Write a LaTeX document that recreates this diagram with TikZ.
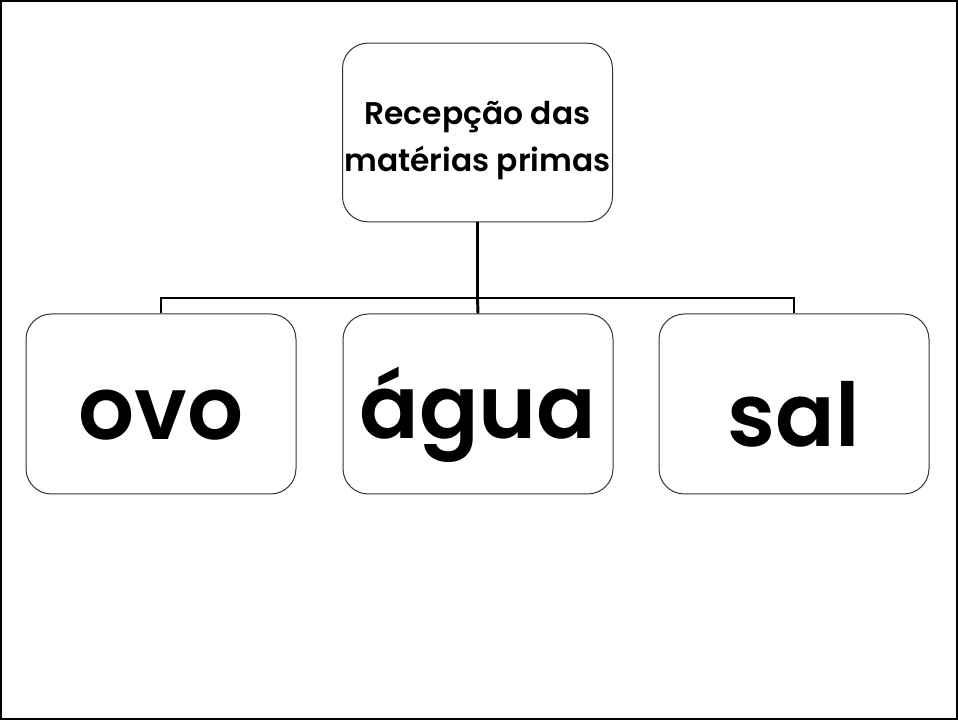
\documentclass[tikz,border=0pt]{standalone}
\usepackage{fontspec}
\setmainfont{Poppins}[BoldFont={* SemiBold}]
\tikzset{
  box/.style={draw=black!80, line width=0.75pt, rounded corners=19pt, fill=white,
    minimum width=202.5pt, minimum height=135pt, inner sep=0pt, align=center},
  big/.style={font=\fontsize{66}{70}\selectfont\bfseries, inner sep=0pt},
  small/.style={font=\fontsize{23.5}{35}\selectfont\bfseries, inner sep=0pt, align=center},
  conn/.style={line width=2.2pt},
}
\begin{document}
\begin{tikzpicture}[x=0.75pt,y=-0.75pt]
\useasboundingbox (0,0) rectangle (958,720);
\draw[line width=1.5pt] (1,1) rectangle (957,719);
\node[box, minimum height=134pt] (top) at (477.5,132.5) {};
\node[small] (topt) at ([yshift=-6pt]top.center) {Recepção das\\matérias primas};
\node[box] (ovo) at (161,404) {};
\node[box] (agua) at (478,404) {};
\node[box] (sal) at (794,404) {};
\node[big] (ovot) at ([yshift=-8pt]ovo.center) {ovo};
\node[big] (aguat) at ([yshift=-8pt]agua.center) {água};
\node[big] (salt) at ([yshift=-8pt]sal.center) {sal};
\coordinate (j) at (477.5,298);
\draw[conn] (top.south) -- (j);
\draw[conn] (ovo.north) |- (j) -| (sal.north);
\draw[conn] (j) -- (agua.north);
\end{tikzpicture}
\end{document}
